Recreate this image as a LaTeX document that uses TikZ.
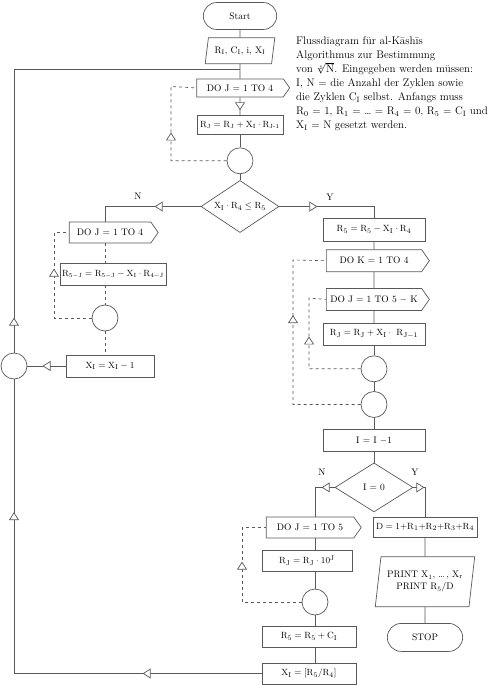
\documentclass[tikz,border=0pt]{standalone}
\usepackage{amsmath, amssymb}
\usetikzlibrary{positioning, arrows.meta, calc, shapes.geometric, shapes.misc, shapes.symbols, decorations.markings}
\tikzset{
    box/.style={rectangle, draw=black!65, line width=0.7pt, minimum height=21pt, inner sep=2pt, align=center, font=\fontsize{9.5}{10}\selectfont},
    doloop/.style={signal, signal to=east, signal pointer angle=110, draw=black!65, line width=0.7pt, minimum height=21pt, inner sep=2pt, font=\fontsize{9.5}{10}\selectfont},
    term/.style={rounded rectangle, draw=black!65, line width=0.7pt, minimum width=80pt, minimum height=27pt, font=\fontsize{9.5}{10}\selectfont},
    io/.style={trapezium, trapezium left angle=79, trapezium right angle=101, trapezium stretches=true, draw=black!65, line width=0.7pt, align=center, font=\fontsize{9.5}{12}\selectfont},
    test/.style={diamond, aspect=1.5, draw=black!65, line width=0.7pt, inner sep=0pt, font=\fontsize{9.5}{10}\selectfont},
    joint/.style={circle, draw=black!65, line width=0.7pt, minimum size=26pt, inner sep=0pt},
    flow/.style={draw=black!65, line width=0.7pt},
    loopline/.style={flow, dashed},
    tri/.style={postaction={decorate, decoration={markings, mark=at position #1 with {\arrow[xshift=4pt]{Triangle[length=8pt, width=10pt, fill=white]}}}}},
    branch/.style={font=\fontsize{9.5}{10}\selectfont},
    small/.style={font=\fontsize{8.7}{10}\selectfont},
}
\newcommand{\ix}[1]{\textsubscript{#1}}

\begin{document}
\begin{tikzpicture}[x=1pt, y=-1pt]
\useasboundingbox (0,0) rectangle (488,685);
% main column
\node[term] (start) at (240,16) {Start};
\node[io, minimum width=70pt, minimum height=26pt, below=7.5pt of start] (inp) {R\ix{I}, C\ix{I}, i, X\ix{I}};
\node[doloop, minimum width=93pt, minimum height=18pt, below=14.5pt of inp] (doA) {DO J = 1 TO 4};
\node[box, small, minimum width=86pt, minimum height=19pt, below=18pt of doA] (rA) {$\mathrm{R_J = R_J + X_I \cdot R_{J\text{-}1}}$};
\node[joint, below=12.5pt of rA] (cA) {};
\node[test, minimum width=78pt, minimum height=52pt, below=6pt of cA] (diaA) {$\mathrm{X_I \cdot R_4 \le R_5}$};
\coordinate (jA) at (240,69);
\coordinate (kA) at (171,86.5);
\node[branch] (nA) at (138,196) {N};
\node[branch] (yA) at (330,197) {Y};
% left column
\node[doloop, minimum width=89pt] (doB) at (110,232.5) {DO J = 1 TO 4};
\node[box, small, minimum width=102pt, minimum height=22pt] (rB) at (113,274) {$\mathrm{R_{5-J} = R_{5-J} - X_I \cdot R_{4-J}}$};
\node[joint] (cB) at (105,318) {};
\node[box, minimum width=88pt, minimum height=22pt] (xB) at (110,366) {$\mathrm{X_I = X_I - 1}$};
\node[joint] (cL) at (14,366) {};
\coordinate (kB) at (54,232.5);
% right column
\node[box, minimum width=102pt, minimum height=23pt] (rC) at (374,229.5) {$\mathrm{R_5 = R_5 - X_I \cdot R_4}$};
\node[doloop, minimum width=103pt, minimum height=22pt, below=8pt of rC] (doC) {DO K = 1 TO 4};
\node[doloop, minimum width=103pt, minimum height=22pt, below=16pt of doC] (doD) {DO J = 1 TO 5 $-$ K};
\node[box, minimum width=102pt, minimum height=22pt, below=12pt of doD] (rD) {$\mathrm{R_J = R_J + X_I \cdot\ R_{J-1}}$};
\node[joint, below=10pt of rD] (cC) {};
\node[joint, below=9pt of cC] (cD) {};
\node[box, minimum width=102pt, minimum height=22pt, below=11pt of cD] (iBox) {I = I $-$1};
\node[test, minimum width=78pt, minimum height=49pt, below=11pt of iBox] (diaB) {I = 0};
\coordinate (kK) at (293,260);
\coordinate (kJ) at (309,298);
\node[branch] (nB) at (322,472) {N};
\node[branch] (yB) at (415,472) {Y};
% lower left column
\node[doloop, minimum width=95pt] (doE) at (310,527.5) {DO J = 1 TO 5};
\node[box, minimum width=90pt] (rE) at (307,560.5) {$\mathrm{R_J = R_J \cdot 10^J}$};
\node[joint] (cE) at (315,602) {};
\node[box, minimum width=94pt] (rF) at (309,636.5) {$\mathrm{R_5 = R_5 + C_I}$};
\node[box, minimum width=94pt] (xF) at (309,673.5) {$\mathrm{X_I = [R_5/R_4]}$};
\coordinate (kE) at (242,527.5);
% lower right column
\node[box, minimum width=104pt, minimum height=20pt] (dBox) at (425,527) {$\mathrm{D = 1{+}R_1{+}R_2{+}R_3{+}R_4}$};
\node[io, minimum width=100pt, minimum height=50pt, below=19pt of dBox] (prt) {PRINT X\ix{1}, \dots\,, X\ix{r}\\PRINT R\ix{5}/D};
\node[term, minimum width=82pt, minimum height=28pt, below=16pt of prt] (stop) {STOP};
% description
\node[anchor=north west, align=left, inner sep=0pt, font=\fontsize{11}{14}\selectfont] (desc) at (296,37) {Flussdiagram für al-Kāshīs\\Algorithmus zur Bestimmung\\von \smash{$\sqrt[\uproot{-3}5]{\mathrm{N}}$}. Eingegeben werden müssen:\\I, N = die Anzahl der Zyklen sowie\\die Zyklen C\ix{I} selbst. Anfangs muss\\R\ix{0} = 1, R\ix{1} = \dots\ = R\ix{4} = 0, R\ix{5} = C\ix{I} und\\X\ix{I} = N gesetzt werden.};

% connectors, main column
\draw[flow] (start) -- (inp);
\draw[flow] (inp) -- (doA);
\draw[flow, tri=0.5] (doA) -- (rA);
\draw[flow] (rA) -- (cA);
\draw[flow] (cA) -- (diaA);
\draw[loopline, tri=80pt] (cA.west) -| (kA) -- (doA.west);
\draw[flow, tri=42pt] (diaA.west) -| (doB.north -| cB);
\draw[flow, tri=34pt] (diaA.east) -| (rC.north);
% left column
\draw[loopline] (doB.south -| cB) -- (rB.north -| cB);
\draw[loopline] (rB.south -| cB) -- (cB);
\draw[loopline] (cB) -- (xB.north -| cB);
\draw[loopline, tri=83pt] (cB.west) -| (kB) -- (doB.west);
\draw[flow, tri=0.5] (xB.west) -- (cL.east);
\draw[flow, tri=31pt] (cL.north) -- (cL |- jA) -- (jA);
\draw[flow, tri=115pt, tri=405pt] (xF.west) -| (cL.south);
% right column
\draw[flow] (rC) -- (doC);
\draw[flow] (doC) -- (doD);
\draw[flow] (doD) -- (rD);
\draw[flow] (rD) -- (cC);
\draw[flow] (cC) -- (cD);
\draw[flow] (cD) -- (iBox);
\draw[flow] (iBox) -- (diaB);
\draw[loopline, tri=153pt] (cD.west) -| (kK) -- (doC.west);
\draw[loopline, tri=80pt] (cC.west) -| (kJ) -- (doD.west);
\draw[flow, tri=9pt] (diaB.west) -| (doE.north -| cE);
\draw[flow, tri=7pt] (diaB.east) -| (dBox.north);
% lower columns
\draw[flow] (doE.south -| cE) -- (rE.north -| cE);
\draw[flow] (rE.south -| cE) -- (cE);
\draw[flow] (cE) -- (rF.north -| cE);
\draw[flow] (rF.south -| cE) -- (xF.north -| cE);
\draw[loopline, tri=96pt] (cE.west) -| (kE) -- (doE.west);
\draw[flow] (dBox) -- (prt);
\draw[flow] (prt) -- (stop);
\end{tikzpicture}
\end{document}
